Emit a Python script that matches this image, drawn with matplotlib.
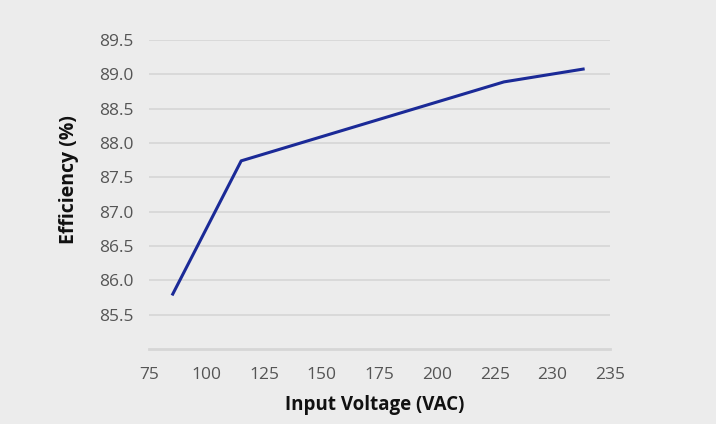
import matplotlib
matplotlib.use("Agg")
import matplotlib.pyplot as plt

# Data
voltage = [85, 115, 229, 264]
efficiency = [85.78, 87.74, 88.89, 89.08]
x_ticks = [75, 100, 125, 150, 175, 200, 225, 250, 275]
x_tick_labels = ["75", "100", "125", "150", "175", "200", "225", "230", "235"]
y_ticks = [85.5, 86.0, 86.5, 87.0, 87.5, 88.0, 88.5, 89.0, 89.5]

plt.rcParams['font.family'] = ['Open Sans', 'DejaVu Sans']
bg = '#ececec'

fig = plt.figure(figsize=(7.16, 4.24), dpi=100, facecolor=bg)
ax = fig.add_axes([149/716, 1 - 349/424, (610-149)/716, (349-40)/424])
ax.set_facecolor(bg)

ax.plot(voltage, efficiency, color='#1b2a97', linewidth=2.2, solid_capstyle='butt', zorder=3)

ax.set_xlim(75, 275)
ax.set_ylim(85.0, 89.5)
ax.set_xticks(x_ticks)
ax.set_xticklabels(x_tick_labels)
ax.set_yticks(y_ticks)
ax.set_yticklabels([f"{v:.1f}" for v in y_ticks])

ax.grid(axis='y', color='#d6d6d6', linewidth=1.2)
ax.set_axisbelow(True)
for s in ['top', 'right', 'left']:
    ax.spines[s].set_visible(False)
ax.spines['bottom'].set_color('#d6d6d6')
ax.spines['bottom'].set_linewidth(2)
ax.tick_params(axis='both', length=0, labelsize=12.5, labelcolor='#555555')
ax.tick_params(axis='x', pad=13)
ax.tick_params(axis='y', pad=11)

ax.set_xlabel("Input Voltage (VAC)", fontsize=13.5, fontweight='bold', color='#111111')
ax.set_ylabel("Efficiency (%)", fontsize=14, fontweight='bold', color='#111111')
ax.xaxis.set_label_coords(0.49, -0.15)
ax.yaxis.set_label_coords(-0.152, 0.547)

fig.savefig("out.png", dpi=100, facecolor=bg)
